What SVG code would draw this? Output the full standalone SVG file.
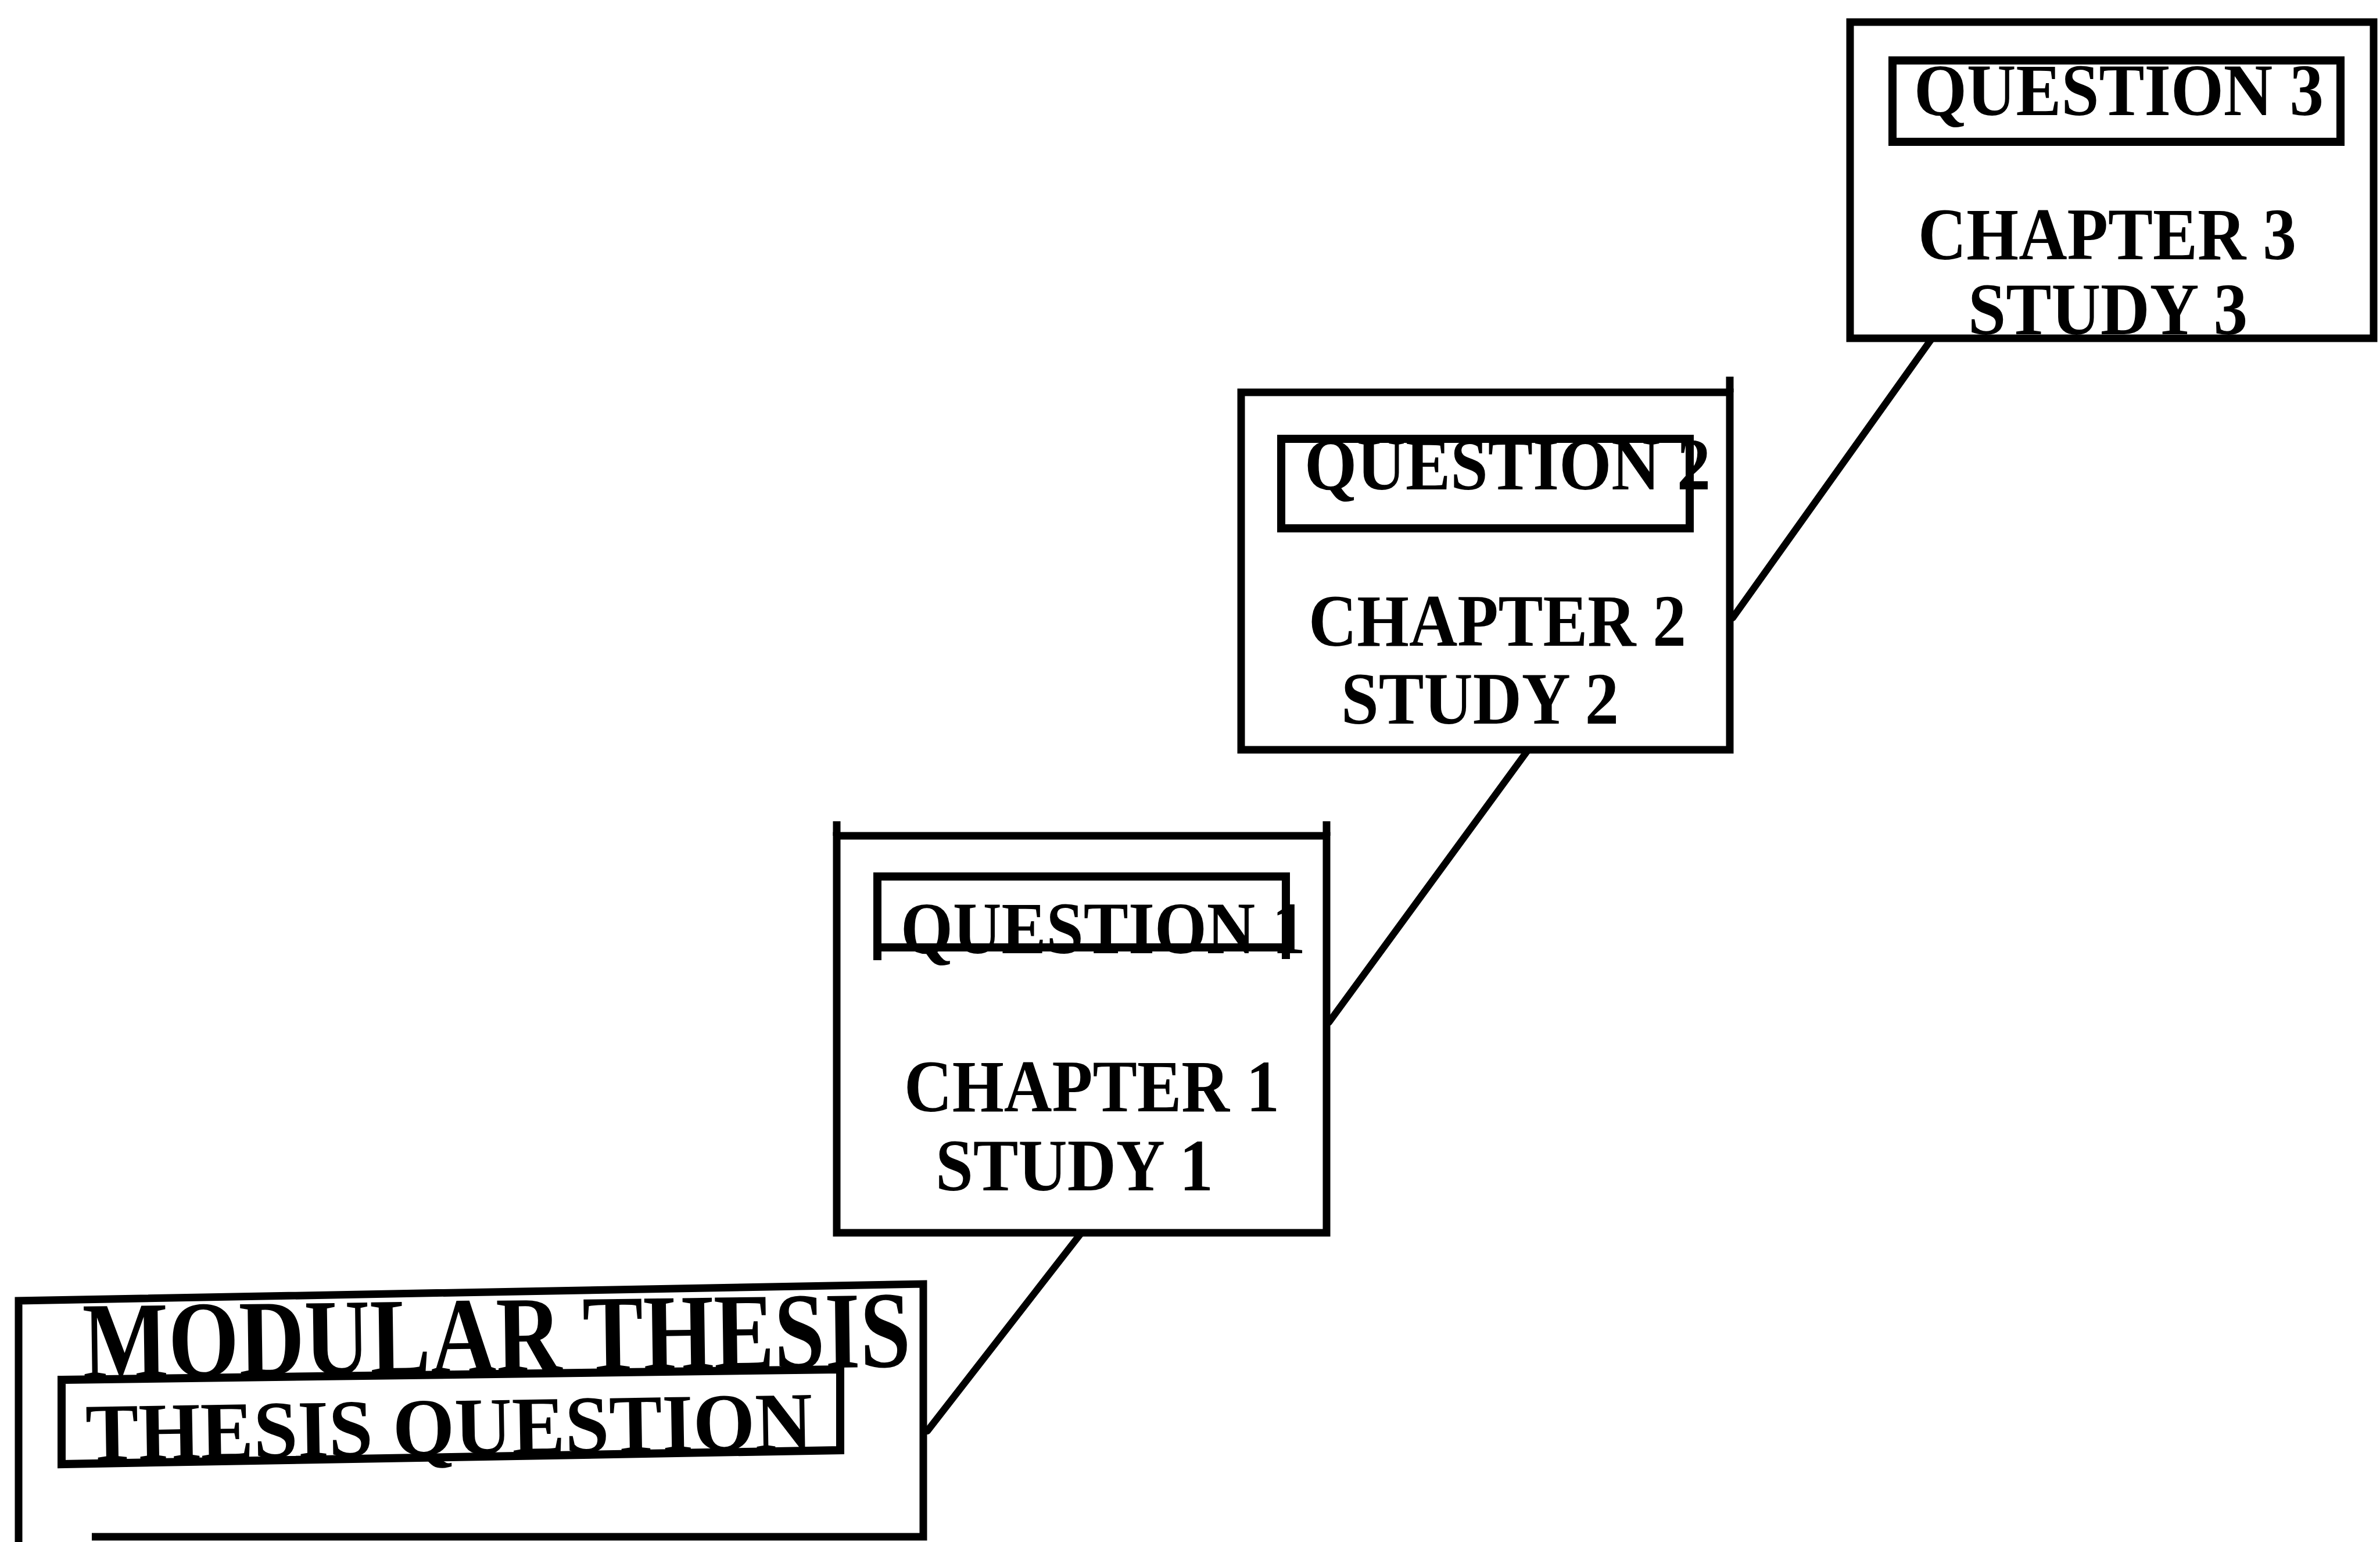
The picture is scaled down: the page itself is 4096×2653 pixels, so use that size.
<svg xmlns="http://www.w3.org/2000/svg" width="4096" height="2653" viewBox="0 0 4096 2653">
<style>
.bg{fill:#fff}
.box{fill:none;stroke:#000;stroke-width:13;stroke-linejoin:miter}
.inner{fill:none;stroke:#000;stroke-width:14}
.conn{fill:none;stroke:#000;stroke-width:12;stroke-linecap:round}
.t{font-family:"Liberation Serif","Times New Roman",serif;font-weight:bold;fill:#000}
.s125{font-size:126px}
</style>
<rect class="bg" x="0" y="0" width="4096" height="2653"/>
<g id="connectors">
<line class="conn" x1="1596" y1="2462" x2="1861" y2="2121"/>
<line class="conn" x1="2287" y1="1759" x2="2630" y2="1290"/>
<line class="conn" x1="2982" y1="1063" x2="3325" y2="582"/>
</g>
<g id="node-thesis">
<path class="box" d="M32 2653 V2238 L1589 2209 V2644 H158"/>
<text class="t" x="143" y="2371" font-size="188" textLength="1425" lengthAdjust="spacingAndGlyphs" transform="rotate(-0.8 143 2371)">MODULAR THESIS</text>
<polygon class="inner" points="106,2374 1446,2356 1446,2495 106,2519"/>
<text class="t" x="148" y="2513" font-size="141" textLength="1251" lengthAdjust="spacingAndGlyphs" transform="rotate(-0.95 148 2513)">THESIS QUESTION</text>
</g>
<g id="node-chapter1">
<rect class="box" x="1440" y="1438" width="843" height="683"/>
<path class="box" d="M1440 1438 V1413 M2283 1438 V1413"/>
<rect class="inner" x="1510" y="1508" width="703" height="122"/>
<path class="inner" d="M1510 1630 V1652 M2213 1630 V1650"/>
<text class="t s125" x="1550" y="1640" textLength="697" lengthAdjust="spacingAndGlyphs">QUESTION 1</text>
<text class="t s125" x="1556" y="1912" textLength="646" lengthAdjust="spacingAndGlyphs">CHAPTER 1</text>
<text class="t s125" x="1610" y="2048" textLength="478" lengthAdjust="spacingAndGlyphs">STUDY 1</text>
</g>
<g id="node-chapter2">
<rect class="box" x="2136" y="675" width="841" height="615"/>
<path class="box" d="M2977 675 V648"/>
<rect class="inner" x="2205" y="755" width="703" height="154"/>
<text class="t s125" x="2245" y="842" textLength="699" lengthAdjust="spacingAndGlyphs">QUESTION 2</text>
<text class="t s125" x="2252" y="1111" textLength="650" lengthAdjust="spacingAndGlyphs">CHAPTER 2</text>
<text class="t s125" x="2308" y="1245" textLength="478" lengthAdjust="spacingAndGlyphs">STUDY 2</text>
</g>
<g id="node-chapter3">
<rect class="box" x="3184" y="38" width="901" height="544"/>
<rect class="inner" x="3257" y="104" width="771" height="140"/>
<text class="t s125" x="3294" y="198" textLength="705" lengthAdjust="spacingAndGlyphs">QUESTION 3</text>
<text class="t s125" x="3301" y="446" textLength="651" lengthAdjust="spacingAndGlyphs">CHAPTER 3</text>
<text class="t s125" x="3387" y="575" textLength="481" lengthAdjust="spacingAndGlyphs">STUDY 3</text>
</g>
</svg>
